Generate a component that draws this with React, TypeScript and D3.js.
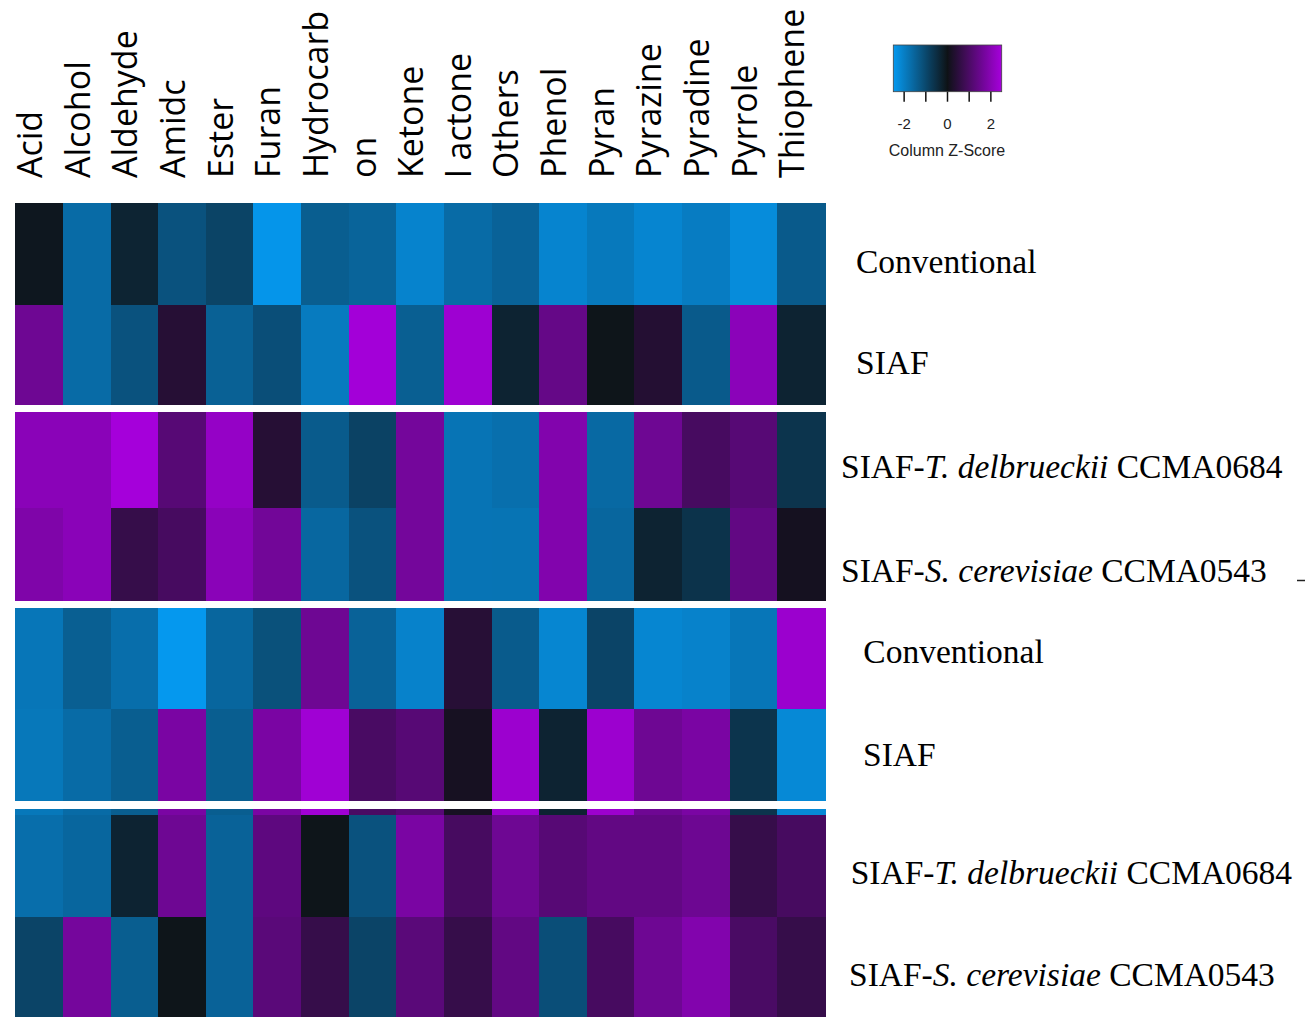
import * as d3 from 'd3';

// column (compound class) labels, as printed on the figure
const compounds = [
  'Acid', 'Alcohol', 'Aldehyde', 'Amidc', 'Ester', 'Furan', 'Hydrocarb', 'on',
  'Ketone', 'l actone', 'Others', 'Phenol', 'Pyran', 'Pyrazine', 'Pyradine',
  'Pyrrole', 'Thiophene',
];

// row labels: [plain prefix, italic part, plain suffix]
const rowLabels: [string, string, string][] = [
  ['Conventional', '', ''],
  ['SIAF', '', ''],
  ['SIAF-', 'T. delbrueckii', ' CCMA0684'],
  ['SIAF-', 'S. cerevisiae', ' CCMA0543'],
  ['Conventional', '', ''],
  ['SIAF', '', ''],
  ['SIAF-', 'T. delbrueckii', ' CCMA0684'],
  ['SIAF-', 'S. cerevisiae', ' CCMA0543'],
];

// column z-scores, one array per row
const zConventionalA = [-0.1, -1.65, -0.33, -1.19, -0.92, -2.43, -1.4, -1.51, -2.1, -1.65, -1.49, -2.12, -1.9, -2.13, -1.97, -2.26, -1.34];
const zSiafA = [1.58, -1.65, -1.19, 0.39, -1.46, -1.12, -1.94, 2.45, -1.42, 2.37, -0.32, 1.43, -0.05, 0.36, -1.34, 2.06, -0.32];
const zTdelA = [2.04, 2.04, 2.48, 1.2, 2.22, 0.39, -1.35, -0.89, 1.68, -1.82, -1.73, 1.91, -1.62, 1.58, 0.94, 1.2, -0.63];
const zScerA = [1.86, 2.04, 0.66, 0.94, 2.04, 1.64, -1.58, -1.19, 1.68, -1.82, -1.81, 1.91, -1.56, -0.32, -0.61, 1.38, 0.12];
const zConventionalB = [-1.86, -1.42, -1.71, -2.48, -1.56, -1.16, 1.58, -1.49, -2.08, 0.41, -1.35, -2.14, -0.93, -2.14, -2.08, -1.86, 2.32];
const zSiafB = [-1.88, -1.65, -1.4, 1.78, -1.4, 1.78, 2.4, 0.97, 1.2, 0.15, 2.34, -0.32, 2.34, 1.58, 1.78, -0.63, -2.2];
const zTdelB = [-1.71, -1.56, -0.32, 1.58, -1.49, 1.32, -0.05, -1.19, 1.78, 0.94, 1.58, 1.2, 1.38, 1.38, 1.56, 0.66, 0.94];
const zScerB = [-0.93, 1.69, -1.4, -0.05, -1.49, 1.25, 0.66, -0.93, 1.25, 0.66, 1.38, -1.12, 0.94, 1.58, 1.91, 0.99, 0.66];

const rows = [zConventionalA, zSiafA, zTdelA, zScerA, zConventionalB, zSiafB, zTdelB, zScerB];

const keyTicks = [-2, -1, 0, 1, 2];
const keyTickLabels = ['-2', '', '0', '', '2'];

// layout (pasted panels, so each block has its own vertical extent)
const W = 1307;
const H = 1017;
const blocks = [
  { rows: [0, 1], y: [202.5, 305, 404] },
  { rows: [2, 3], y: [412, 508.3, 600] },
  { rows: [4, 5], y: [608.3, 708.7, 800.7] },
  { rows: [6, 7], y: [815, 917, 1017] },
];
const labelPos = [
  [856, 272.7], [856, 374.3], [841, 478.3], [841, 581.7],
  [863.3, 663.3], [863, 765.7], [850.7, 884], [849, 985.7],
];

export default function App() {
  const x = d3.scaleBand<string>().domain(compounds).range([15.3, 825]);
  const color = d3.scaleLinear<string>()
    .domain([-2.5, 0, 2.5])
    .range(['#0599f0', '#0e1216', '#a600dc'])
    .clamp(true);

  const keyX = d3.scaleLinear().domain([-2.5, 2.5]).range([893.3, 1001.7]);
  const stops = d3.range(0, 1.0001, 0.05);

  const cells: JSX.Element[] = [];
  blocks.forEach((b, bi) => {
    const y = d3.scaleLinear().domain([0, 1, 2]).range(b.y);
    b.rows.forEach((r, k) => {
      rows[r].forEach((v, ci) => {
        cells.push(
          <rect key={`c${bi}-${r}-${ci}`} x={x(compounds[ci])} y={y(k)}
            width={x.bandwidth() + 0.5} height={y(k + 1) - y(k) + 0.5}
            fill={color(v)} />
        );
      });
    });
  });
  // thin strip of the previous panel left over at the top of the last block
  rows[5].forEach((v, ci) => {
    cells.push(
      <rect key={`s${ci}`} x={x(compounds[ci])} y={809}
        width={x.bandwidth() + 0.5} height={6} fill={color(v)} />
    );
  });

  return (
    <svg width={W} height={H} style={{ position: 'absolute', left: 0, top: 0, background: '#fff' }}>
      <defs>
        <linearGradient id="keyGrad" x1="0" x2="1" y1="0" y2="0">
          {stops.map(t => (
            <stop key={t} offset={t} stopColor={color(-2.5 + 5 * t)} />
          ))}
        </linearGradient>
      </defs>

      <g shapeRendering="crispEdges">{cells}</g>

      {compounds.map(c => (
        <text key={c}
          transform={`translate(${(x(c) as number) + x.bandwidth() / 2 + 3},178) rotate(-90)`}
          fontFamily="'Open Sans', sans-serif" fontSize={34} fill="#000">
          {c}
        </text>
      ))}

      {rowLabels.map((l, i) => (
        <text key={i} x={labelPos[i][0]} y={labelPos[i][1]}
          fontFamily="'Liberation Serif', 'Times New Roman', serif" fontSize={33.5} fill="#000">
          {l[0]}
          {l[1] && <tspan fontStyle="italic">{l[1]}</tspan>}
          {l[2]}
        </text>
      ))}
      <line x1={1297} x2={1305} y1={580.5} y2={580.5} stroke="#222" strokeWidth={1.5} />

      {/* colour key */}
      <rect x={keyX(-2.5)} y={45} width={keyX(2.5) - keyX(-2.5)} height={46.7}
        fill="url(#keyGrad)" stroke="#444" strokeWidth={0.8} />
      {keyTicks.map((t, i) => (
        <g key={t} transform={`translate(${keyX(t)},0)`}>
          <line y1={91.7} y2={101.7} stroke="#111" strokeWidth={1.5} />
          <text y={129} textAnchor="middle" fontFamily="'Liberation Sans', Arial, sans-serif"
            fontSize={15} fill="#222">{keyTickLabels[i]}</text>
        </g>
      ))}
      <text x={947} y={155.5} textAnchor="middle" fontFamily="'Liberation Sans', Arial, sans-serif"
        fontSize={16} fill="#222">Column Z-Score</text>
    </svg>
  );
}
